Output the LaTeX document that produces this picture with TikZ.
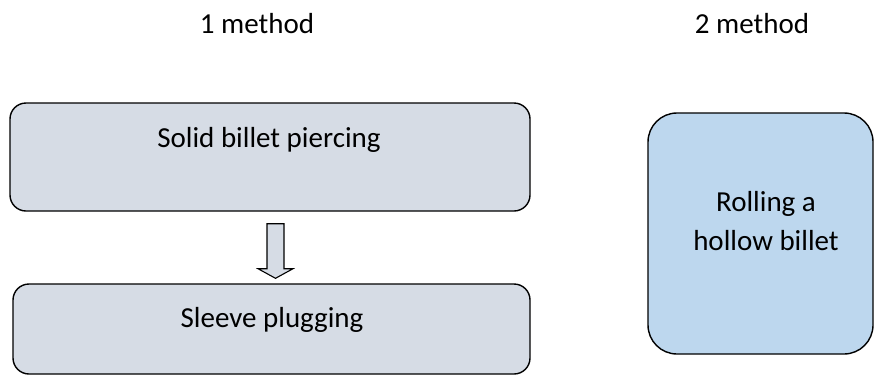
\documentclass[tikz,border=0pt]{standalone}
\usepackage{fontspec}
\usetikzlibrary{calc}
\setmainfont{Carlito}
\definecolor{stepfill}{HTML}{D6DCE5}
\definecolor{rollfill}{HTML}{BDD7EE}
\begin{document}
\begin{tikzpicture}[x=1pt,y=-1pt,
  every node/.style={font=\fontsize{29}{39}\selectfont, inner sep=0pt},
  stepbox/.style={draw=black, line width=1.4pt, fill=stepfill,
    rounded corners=16pt, rectangle},
  rollbox/.style={draw=black, line width=1.4pt, fill=rollfill,
    rounded corners=29pt, rectangle},
  caption/.style={anchor=base}]
\useasboundingbox (0,0) rectangle (874,376);

% column headings
\node[caption] (h1) at (257,33) {1 method};
\node[caption] (h2) at (752,33) {2 method};

% first method: two steps
\node[stepbox, minimum width=520pt, minimum height=108pt] (b1) at (270,157) {};
\node[caption] (t1) at (269,147) {Solid billet piercing};
\node[stepbox, minimum width=517pt, minimum height=90pt] (b2) at (271.5,329) {};
\node[caption] (t2) at (272,327) {Sleeve plugging};

% block arrow between the steps
\coordinate (atop) at ($(b1.south)+(5.5,12)$);
\draw[line width=1.1pt, fill=stepfill, line join=miter]
  ($(atop)+(-8.5,0)$) -- ($(atop)+(8.5,0)$) -- ($(atop)+(8.5,45)$)
  -- ($(atop)+(17.5,45)$) -- ($(b2.north)+(4,-5)$) -- ($(atop)+(-17.5,45)$)
  -- ($(atop)+(-8.5,45)$) -- cycle;

% second method
\node[rollbox, minimum width=225pt, minimum height=241pt] (b3) at (760.5,233.5) {};
\node[align=center] (t3) at (766,221.5) {Rolling a\\hollow billet};
\end{tikzpicture}
\end{document}
